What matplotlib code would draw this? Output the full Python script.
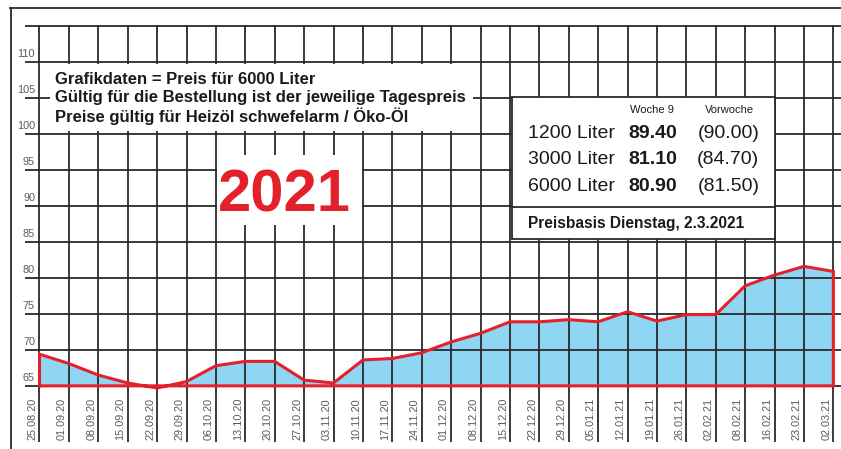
import matplotlib.pyplot as plt
from matplotlib.patches import Rectangle
from matplotlib.lines import Line2D
from matplotlib import font_manager

dates = ['25.08.20', '01.09.20', '08.09.20', '15.09.20', '22.09.20', '29.09.20',
         '06.10.20', '13.10.20', '20.10.20', '27.10.20', '03.11.20', '10.11.20',
         '17.11.20', '24.11.20', '01.12.20', '08.12.20', '15.12.20', '22.12.20',
         '29.12.20', '05.01.21', '12.01.21', '19.01.21', '26.01.21', '02.02.21',
         '08.02.21', '16.02.21', '23.02.21', '02.03.21']
prices = [69.4, 68.1, 66.5, 65.4, 64.7, 65.6, 67.8, 68.4, 68.4, 65.8, 65.4, 68.6,
          68.8, 69.6, 71.1, 72.3, 73.9, 73.9, 74.2, 73.9, 75.3, 74.0, 74.9, 74.9,
          78.9, 80.4, 81.6, 80.9]
y_ticks = [65, 70, 75, 80, 85, 90, 95, 100, 105, 110]
base = 65

info_lines = ['Grafikdaten = Preis für 6000 Liter',
              'Gültig für die Bestellung ist der jeweilige Tagespreis',
              'Preise gültig für Heizöl schwefelarm / Öko-Öl']
sizes = ['1200 Liter', '3000 Liter', '6000 Liter']
week_now = ['89.40', '81.10', '80.90']
week_prev = ['(90.00)', '(84.70)', '(81.50)']

names = {f.name for f in font_manager.fontManager.ttflist}
narrow = 'Liberation Sans Narrow' if 'Liberation Sans Narrow' in names else 'Liberation Sans'
sans = 'Liberation Sans'

RED = '#e4202a'
BLUE = '#8fd5f4'
GRID = '#2a2a2a'
GRAY = '#5a5a5a'
INK = '#1a1a1a'

fig = plt.figure(figsize=(8.41, 4.49), dpi=100)
W, H = 841, 449
ax = fig.add_axes([25 / W, 7 / H, 816 / W, 417 / H])
x = list(range(len(dates)))
ax.set_xlim(-0.493, 27.26)
ax.set_ylim(57.2, 115.14)
ax.axis('off')

# grid
ax.hlines(y_ticks + [115], -0.493, 27.26, color=GRID, lw=1.3, zorder=1)
ax.vlines(x, 57.2, 115.14, color=GRID, lw=1.3, zorder=1)

# area + red outline
ax.fill_between(x, prices, base, color=BLUE, lw=0, zorder=0.5)
px = [x[0]] + x + [x[-1], x[0]]
py = [base] + prices + [base, base]
ax.plot(px, py, color=RED, lw=2.2, zorder=3, solid_joinstyle='miter')

# y labels
for v in y_ticks:
    ax.text(-0.15, v + 0.4, str(v), ha='right', va='bottom', fontsize=7.8,
            color=GRAY, family=narrow, zorder=5)

# x labels
for i, d in enumerate(dates):
    ax.text(i - 0.24, 63.3, d, rotation=90, ha='center', va='top', fontsize=7.8,
            color=GRAY, family=narrow, zorder=5)

# info text box
ax.add_patch(Rectangle((0.36, 100.4), 14.38, 9.3, facecolor='white', edgecolor='none', zorder=4))
for line, yy in zip(info_lines, [107.6, 105.0, 102.4]):
    ax.text(0.53, yy, line, ha='left', va='center', fontsize=12, fontweight='bold',
            family=sans, color=INK, zorder=5)

# 2021 box
ax.add_patch(Rectangle((6.04, 87.4), 4.93, 9.7, facecolor='white', edgecolor='none', zorder=4))
ax.text(6.07, 91.4, '2021', ha='left', va='center', fontsize=43, fontweight='bold',
        family=sans, color=RED, zorder=5)

# price box
ax.add_patch(Rectangle((16.06, 85.42), 8.96, 19.72, facecolor='white', edgecolor=GRID,
                       lw=1.3, zorder=4))
ax.plot([16.06, 25.02], [89.86, 89.86], color=GRID, lw=1.3, zorder=4.5)
ax.text(20.82, 103.3, 'Woche 9', ha='center', va='center', fontsize=8, family=narrow,
        color=INK, zorder=5)
ax.text(23.48, 103.3, 'Vorwoche', ha='center', va='center', fontsize=8, family=narrow,
        color=INK, zorder=5)
row_y = [100.1, 96.4, 92.7]
for s, n, p, yy in zip(sizes, week_now, week_prev, row_y):
    ax.text(16.62, yy, s, ha='left', va='center', fontsize=14, family=narrow,
            color=INK, zorder=5)
    ax.text(21.68, yy, n, ha='right', va='center', fontsize=14, fontweight='bold',
            family=narrow, color=INK, zorder=5)
    ax.text(24.48, yy, p, ha='right', va='center', fontsize=14, family=narrow,
            color=INK, zorder=5)
ax.text(16.62, 87.6, 'Preisbasis Dienstag, 2.3.2021', ha='left', va='center',
        fontsize=11.2, fontweight='bold', family=narrow, color=INK, zorder=5)

# outer frame
fig.add_artist(Line2D([10.5 / W, 10.5 / W], [0, 1 - 8 / H], color=GRID, lw=1.3))
fig.add_artist(Line2D([10 / W, 1], [1 - 8 / H, 1 - 8 / H], color=GRID, lw=1.3))

fig.savefig('out.png', dpi=100)
